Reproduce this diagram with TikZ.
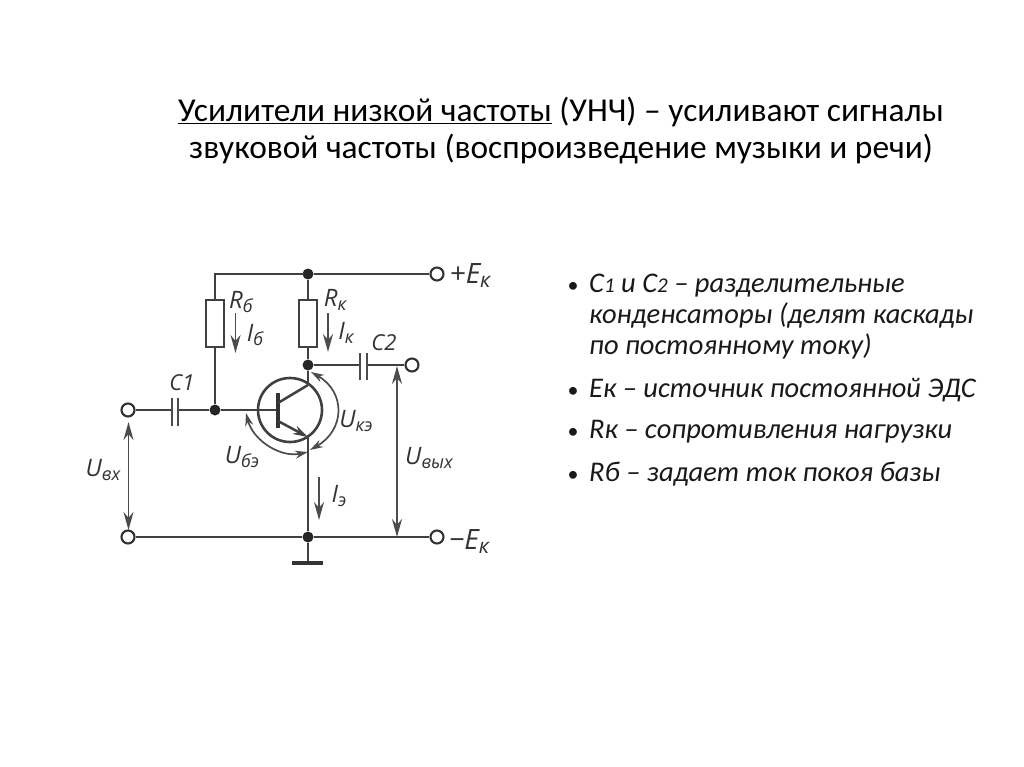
\documentclass[tikz,border=0pt]{standalone}
\usepackage{fontspec}
\setmainfont{Carlito}
\newfontfamily\handfont{Open Sans}
\usetikzlibrary{arrows.meta}
\newcommand{\subl}[1]{\raisebox{-4pt}{\fontsize{18}{18}\selectfont #1}}
\newcommand{\subg}[1]{\raisebox{-4pt}{\fontsize{21}{21}\selectfont #1}}
\tikzset{
 wire/.style={line width=2.5pt,draw=black!75},
 term/.style={circle,draw=black!80,line width=2.1pt,fill=white,minimum size=13pt,inner sep=0pt},
 dotn/.style={circle,fill=black!85,minimum size=11pt,inner sep=0pt},
 resistor/.style={rectangle,draw=black!75,line width=2.6pt,minimum width=18pt,minimum height=47pt,inner sep=0pt,fill=white},
 plate/.style={line width=2.6pt,draw=black!70},
 arr/.style={line width=1.8pt,draw=black!70,-{Stealth[length=18pt,width=10pt]}},
 darr/.style={line width=1.8pt,draw=black!70,{Stealth[length=18pt,width=10pt]}-{Stealth[length=18pt,width=10pt]}},
 arcarr/.style={line width=1.7pt,draw=black!70,{Stealth[length=13pt,width=8pt]}-{Stealth[length=13pt,width=8pt]}},
 lab/.style={font=\fontsize{24}{24}\selectfont\handfont\itshape,text=black!80,inner sep=0pt},
 capl/.style={font=\fontsize{22}{22}\selectfont\handfont\itshape,text=black!80,inner sep=0pt},
 labg/.style={font=\fontsize{28}{28}\selectfont\handfont\itshape,text=black!80,inner sep=0pt},
 title/.style={font=\fontsize{33.4}{37.5}\selectfont,align=center,inner sep=0pt,text=black},
 bul/.style={font=\fontsize{28.5}{31}\selectfont\itshape,inner sep=0pt,anchor=base west,text=black!90},
 bulm/.style={font=\fontsize{22}{31}\selectfont,inner sep=0pt,anchor=base,text=black!90},
}
\begin{document}
\begin{tikzpicture}[x=1pt,y=-1pt]
\useasboundingbox (0,0) rectangle (1024,767);
\node[title] (ttl) at (561,130.5) {\underline{Усилители низкой частоты} (УНЧ) -- усиливают сигналы\\звуковой частоты (воспроизведение музыки и речи)};
% nodes
\node[term] (tplus) at (437,274) {};
\node[term] (tminus) at (437,537) {};
\node[term] (tinA) at (128,410) {};
\node[term] (tinB) at (128,537) {};
\node[term] (tout) at (412,365) {};
\node[dotn] (jtop) at (308,274) {};
\node[dotn] (jcol) at (308,365) {};
\node[dotn] (jbase) at (215,410) {};
\node[dotn] (jgnd) at (308,537) {};
\coordinate (corner) at (215,274);
\node[resistor] (rb) at (215,323.5) {};
\node[resistor] (rk) at (308,323.5) {};
\coordinate (c1a) at (172,410);
\coordinate (c1b) at (178,410);
\coordinate (c2a) at (360,365);
\coordinate (c2b) at (367,365);
\coordinate (colend) at (308,385);
\coordinate (emend) at (308,437);
\coordinate (bar) at (278,410);
\coordinate (gnd) at (308,563);
\coordinate (uout) at (397,366);
\coordinate (uoutb) at (397,537);
% wires
\draw[wire] (jtop) -- (tplus);
\draw[wire,line cap=rect] (corner) -- (jtop);
\draw[wire] (corner) -- (rb);
\draw[wire] (rb) -- (jbase);
\draw[wire] (jtop) -- (rk);
\draw[wire] (rk) -- (jcol);
\draw[wire] (jcol) -- (c2a);
\draw[wire] (c2b) -- (tout);
\draw[wire] (tinA) -- (c1a);
\draw[wire] (c1b) -- (jbase);
\draw[wire] (jbase) -- (bar);
\draw[wire] (jcol) -- (colend);
\draw[wire] (emend) -- (jgnd);
\draw[wire] (tinB) -- (jgnd);
\draw[wire] (jgnd) -- (tminus);
\draw[wire] (jgnd) -- (gnd);
\draw[line width=3.2pt,draw=black!80] (292,563) -- (gnd) -- (323,563);
% capacitors
\draw[plate] (172,398) -- (172,426);
\draw[plate] (178,398) -- (178,426);
\draw[plate] (360,353) -- (360,380);
\draw[plate] (367,353) -- (367,380);
% transistor
\draw[line width=2.6pt,draw=black!75] (290,410) circle (32);
\draw[line width=3.2pt,draw=black!80] (278,393) -- (278,428);
\draw[wire] (278,403) -- (colend);
\draw[wire,-{Stealth[length=15pt,width=9pt]}] (278,421) -- (emend);
% voltage arcs
\draw[arcarr] (311,372) .. controls (346,392) and (345,430) .. (310,450);
\draw[arcarr] (246,413) .. controls (253,440) and (280,458) .. (308,452);
% current arrows
\draw[arr] (235.5,313) -- (235.5,353);
\draw[arr] (328,313) -- (328,352);
\draw[arr] (319,477) -- (319,520);
\draw[darr] (128.5,422) -- (128.5,530);
\draw[darr] (uout) -- (uoutb);
% labels
\node[lab] (lrb) at (241,302) {R\subl{б}};
\node[lab] (lrk) at (335,300) {R\subl{к}};
\node[lab] (lib) at (255,335) {I\subl{б}};
\node[lab] (lik) at (346,333) {I\subl{к}};
\node[lab] (lie) at (339,496) {I\subl{э}};
\node[capl] (lc1) at (182,383) {C1};
\node[capl] (lc2) at (384,343) {C2};
\node[labg] (lplus) at (470,276) {+E\subg{к}};
\node[labg] (lminus) at (469,542) {−E\subg{к}};
\node[lab] (luke) at (356,421) {U\subl{кэ}};
\node[lab] (lube) at (242,457) {U\subl{бэ}};
\node[lab] (luin) at (103,470) {U\subl{вх}};
\node[lab] (luout) at (429,458) {U\subl{вых}};
% bullets
\node[bulm] (b1m) at (573,292) {•};
\node[bul] (b1) at (589,292) {С{\fontsize{21}{21}\selectfont 1} и С{\fontsize{21}{21}\selectfont 2} -- разделительные};
\node[bul] (b1b) at (589,323.5) {конденсаторы (делят каскады};
\node[bul] (b1c) at (589,354) {по постоянному току)};
\node[bulm] (b2m) at (573,397) {•};
\node[bul] (b2) at (589,397) {Ек -- источник постоянной ЭДС};
\node[bulm] (b3m) at (573,438) {•};
\node[bul] (b3) at (589,438) {Rк -- сопротивления нагрузки};
\node[bulm] (b4m) at (573,481) {•};
\node[bul] (b4) at (589,481) {Rб -- задает ток покоя базы};
\end{tikzpicture}
\end{document}
